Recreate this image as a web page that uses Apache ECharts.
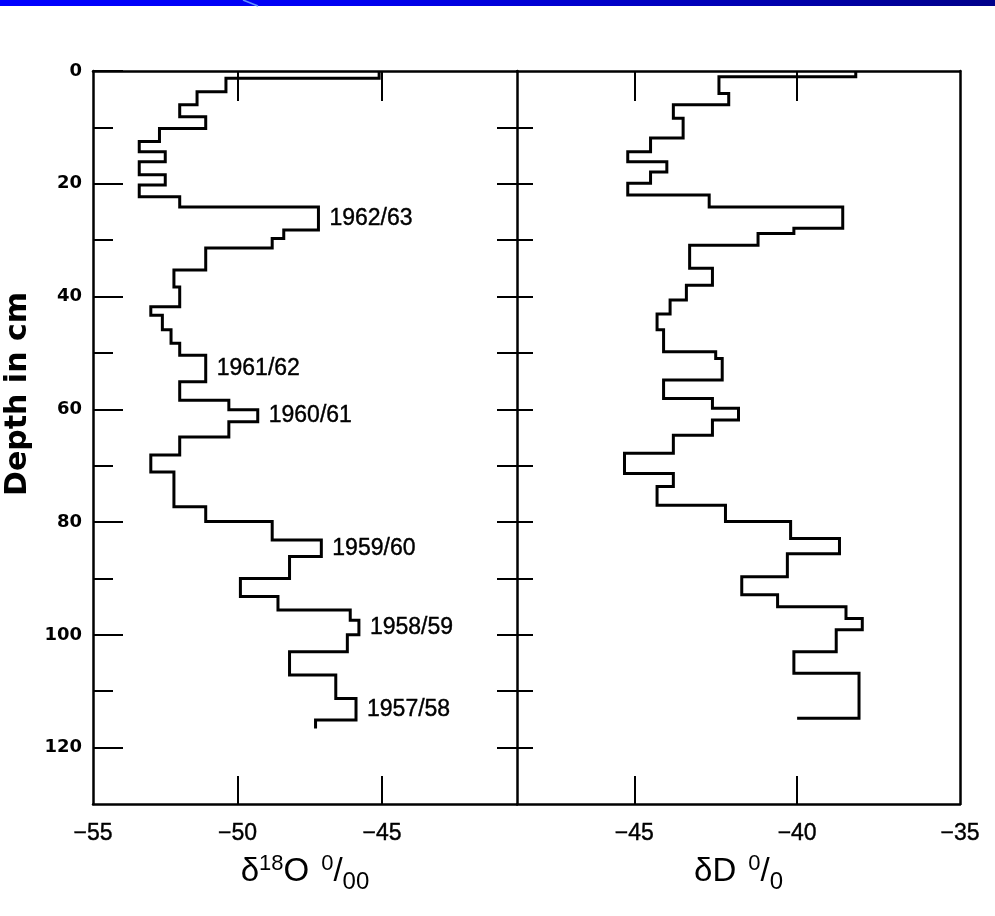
<!DOCTYPE html>
<html>
<head>
<meta charset="utf-8">
<title>Firn core isotope profiles</title>
<script src="https://cdn.jsdelivr.net/npm/echarts@6/dist/echarts.min.js"></script>
<style>
  html, body { margin: 0; padding: 0; background: #fff; }
  #chart { width: 995px; height: 916px; }
</style>
</head>
<body>
<div id="chart"></div>
<script>
// Layer boundaries (cm) and layer values for the δ18O profile (‰)
const o18Bounds = [0, 1.3, 3.7, 6.0, 8.1, 10.2, 12.5, 14.3, 16.1, 18.4, 20.2, 22.3, 24.1, 28.2, 29.7,
  31.4, 35.3, 38.3, 41.8, 43.3, 45.9, 48.3, 50.4, 55.1, 58.4, 60.1, 62.2, 64.9, 68.1, 71.1, 77.3,
  79.9, 83.2, 86.1, 90.0, 93.2, 95.6, 97.4, 100.0, 103.0, 107.1, 111.3, 115.1, 116.6];
const o18Values = [-45.1, -50.4, -51.4, -52.0, -51.1, -52.7, -53.4, -52.5, -53.4, -52.5, -53.4, -52.0,
  -47.2, -48.4, -48.8, -51.1, -52.2, -52.0, -53.0, -52.6, -52.3, -52.0, -51.1, -52.0, -50.3, -49.3,
  -50.3, -52.0, -53.0, -52.2, -51.1, -48.8, -47.1, -48.2, -49.9, -48.6, -46.1, -45.8, -46.2, -48.2,
  -46.6, -45.9, -47.3];

// Layer boundaries (cm) and layer values for the δD profile
const dDBounds = [0, 1.0, 4.0, 6.0, 8.4, 11.9, 14.3, 16.1, 17.9, 19.9, 22.0, 24.1, 27.9, 28.8, 30.9,
  35.0, 38.0, 40.6, 43.1, 45.9, 49.8, 51.0, 54.8, 58.1, 59.8, 61.9, 64.6, 67.8, 71.4, 73.7, 77.0,
  79.9, 82.9, 85.6, 89.7, 92.9, 95.0, 97.1, 99.1, 103.0, 106.8, 114.8, 114.8];
const dDValues = [-38.2, -42.4, -42.1, -43.8, -43.5, -44.5, -45.2, -44.0, -44.5, -45.2, -42.7, -38.6,
  -40.1, -41.2, -43.3, -42.6, -43.4, -43.9, -44.3, -44.1, -42.5, -42.3, -44.1, -42.6, -41.8, -42.6,
  -43.8, -45.3, -43.8, -44.3, -42.2, -40.2, -38.7, -40.3, -41.7, -40.6, -38.5, -38.0, -38.8, -40.1,
  -38.1, -40.0];

// Accumulation years marked on the δ18O summer peaks (index into the layers)
const yearLabels = ['1962/63', '1961/62', '1960/61', '1959/60', '1958/59', '1957/58'];
const yearLayers = [12, 22, 25, 32, 37, 41];

// Tick positions
const depthMajor = [0, 20, 40, 60, 80, 100, 120];
const depthMinor = [10, 30, 50, 70, 90, 110];
const depthDivider = [10, 20, 30, 40, 50, 60, 70, 80, 90, 100, 110, 120];
const o18Labels = [-55, -50, -45];
const o18Ticks = [-50, -45];
const dDLabels = [-45, -40, -35];
const dDTicks = [-45, -40];

function stepProfile(bounds, values) {
  const pts = [];
  values.forEach((v, i) => {
    pts.push([v, bounds[i]]);
    pts.push([v, bounds[i + 1]]);
  });
  return pts;
}

const FONT = '"Liberation Sans", Arial, Helvetica, sans-serif';
const WIDE = '"DejaVu Sans", Verdana, sans-serif';
const INK = '#000';
const frame = { show: true, onZero: false, lineStyle: { color: INK, width: 2.5 } };
const minus = v => (v < 0 ? '\u2212' : '') + Math.abs(v);

const titleRich = {
  n: { fontSize: 33, fontFamily: FONT, color: INK, lineHeight: 44 },
  sup: { fontSize: 22, fontFamily: FONT, color: INK, verticalAlign: 'top', lineHeight: 44, padding: [3, 0, 0, 0] },
  sub: { fontSize: 24, fontFamily: FONT, color: INK, verticalAlign: 'bottom', lineHeight: 44 },
  gap: { fontSize: 33, fontFamily: FONT, width: 12 }
};

const tickLabel = {
  formatter: minus, margin: 18, color: INK, fontFamily: FONT, fontSize: 23,
  textBorderColor: INK, textBorderWidth: 0.4
};

const chart = echarts.init(document.getElementById('chart'), null, { renderer: 'canvas' });

const yBase = { type: 'value', min: 0, max: 130, inverse: true, splitLine: { show: false } };

chart.setOption({
  backgroundColor: '#fff',
  animation: false,
  graphic: [
    {
      type: 'rect', left: 0, top: 0, silent: true,
      shape: { x: 0, y: 0, width: 995, height: 6 },
      style: {
        fill: new echarts.graphic.LinearGradient(0, 0, 1, 0, [
          { offset: 0, color: '#0000ff' },
          { offset: 0.35, color: '#0000f2' },
          { offset: 1, color: '#00008a' }
        ])
      }
    },
    {
      type: 'line', silent: true,
      shape: { x1: 243, y1: 0, x2: 258, y2: 6 },
      style: { stroke: '#5f8fff', lineWidth: 1.5 }
    },
    {
      // vertical axis title
      type: 'text', silent: true,
      x: 18, y: 394, rotation: Math.PI / 2,
      style: {
        text: 'Depth in cm', align: 'center', verticalAlign: 'middle',
        fontFamily: WIDE, fontWeight: 'bold', fontSize: 30, fill: INK
      }
    }
  ],
  grid: [
    { left: 93, top: 71, width: 424, height: 733 },
    { left: 517, top: 71, width: 443, height: 733 }
  ],
  xAxis: [
    {
      gridIndex: 0, type: 'value', position: 'bottom', min: -55, max: -40.33,
      axisLine: frame, splitLine: { show: false },
      axisTick: { inside: true, length: 28, customValues: o18Ticks, lineStyle: { color: INK, width: 2 } },
      axisLabel: Object.assign({ customValues: o18Labels }, tickLabel),
      name: '{n|δ}{sup|18}{n|O}{gap|}{sup|0}{n|/}{sub|00}',
      nameLocation: 'middle', nameGap: 46,
      nameTextStyle: { color: INK, fontFamily: FONT, rich: titleRich }
    },
    {
      gridIndex: 0, type: 'value', position: 'top', min: -55, max: -40.33,
      axisLine: frame, splitLine: { show: false }, axisLabel: { show: false },
      axisTick: { inside: true, length: 30, customValues: o18Ticks, lineStyle: { color: INK, width: 2 } }
    },
    {
      gridIndex: 1, type: 'value', position: 'bottom', min: -48.6, max: -35,
      axisLine: frame, splitLine: { show: false },
      axisTick: { inside: true, length: 28, customValues: dDTicks, lineStyle: { color: INK, width: 2 } },
      axisLabel: Object.assign({ customValues: dDLabels }, tickLabel),
      name: '{n|δD}{gap|}{sup|0}{n|/}{sub|0}',
      nameLocation: 'middle', nameGap: 46,
      nameTextStyle: { color: INK, fontFamily: FONT, rich: titleRich }
    },
    {
      gridIndex: 1, type: 'value', position: 'top', min: -48.6, max: -35,
      axisLine: frame, splitLine: { show: false }, axisLabel: { show: false },
      axisTick: { inside: true, length: 30, customValues: dDTicks, lineStyle: { color: INK, width: 2 } }
    }
  ],
  yAxis: [
    Object.assign({}, yBase, {
      gridIndex: 0, position: 'left',
      axisLine: frame,
      axisTick: { inside: true, length: 30, customValues: depthMajor, lineStyle: { color: INK, width: 2 } },
      axisLabel: {
        customValues: depthMajor, margin: 11, color: INK,
        fontFamily: WIDE, fontWeight: 'bold', fontSize: 18
      }
    }),
    Object.assign({}, yBase, {
      gridIndex: 0, position: 'left',
      axisLine: { show: false }, axisLabel: { show: false },
      axisTick: { inside: true, length: 20, customValues: depthMinor, lineStyle: { color: INK, width: 2 } }
    }),
    Object.assign({}, yBase, {
      gridIndex: 0, position: 'right',
      axisLine: frame, axisLabel: { show: false },
      axisTick: { inside: true, length: 20, customValues: depthDivider, lineStyle: { color: INK, width: 2 } }
    }),
    Object.assign({}, yBase, {
      gridIndex: 1, position: 'left',
      axisLine: { show: false }, axisLabel: { show: false },
      axisTick: { inside: true, length: 16, customValues: depthDivider, lineStyle: { color: INK, width: 2 } }
    }),
    Object.assign({}, yBase, {
      gridIndex: 1, position: 'right',
      axisLine: frame, axisLabel: { show: false }, axisTick: { show: false }
    })
  ],
  series: [
    {
      name: 'δ18O', type: 'line', xAxisIndex: 0, yAxisIndex: 0,
      data: stepProfile(o18Bounds, o18Values),
      showSymbol: false, symbol: 'none', clip: false,
      lineStyle: { color: INK, width: 3, join: 'miter' }
    },
    {
      name: 'δD', type: 'line', xAxisIndex: 2, yAxisIndex: 3,
      data: stepProfile(dDBounds, dDValues),
      showSymbol: false, symbol: 'none', clip: false,
      lineStyle: { color: INK, width: 3, join: 'miter' }
    },
    {
      name: 'years', type: 'scatter', xAxisIndex: 0, yAxisIndex: 0,
      symbolSize: 0, silent: true,
      itemStyle: { color: INK, opacity: 1 },
      data: yearLabels.map((y, k) => {
        const i = yearLayers[k];
        return { name: y, value: [o18Values[i], (o18Bounds[i] + o18Bounds[i + 1]) / 2] };
      }),
      label: {
        show: true, position: 'right', distance: 11, formatter: '{b}',
        color: INK, fontFamily: FONT, fontSize: 23,
        textBorderColor: INK, textBorderWidth: 0.4
      }
    }
  ]
});
</script>
</body>
</html>
